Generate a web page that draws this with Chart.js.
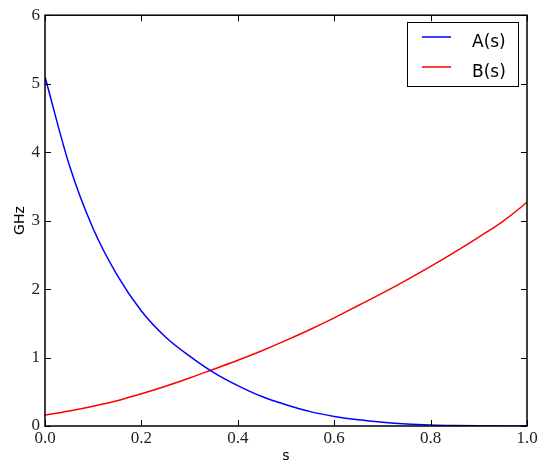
<!DOCTYPE html>
<html>
<head>
<meta charset="utf-8">
<script src="https://cdn.jsdelivr.net/npm/chart.js@4/dist/chart.umd.min.js"></script>
<style>
  html, body { margin: 0; padding: 0; background: #fff; }
  #wrap { width: 547px; height: 461px; }
</style>
</head>
<body>
<div id="wrap"><canvas id="myChart" width="547" height="461"></canvas></div>
<script>
const sValues = [0, 0.05, 0.1, 0.15, 0.2, 0.25, 0.3, 0.35, 0.4, 0.45, 0.5,
  0.55, 0.6, 0.65, 0.7, 0.75, 0.8, 0.85, 0.9, 0.95, 0.99, 1.0];
const aValues = [5.1, 3.82, 2.88, 2.2, 1.68, 1.30, 1.02, 0.78, 0.59, 0.43, 0.31,
  0.21, 0.14, 0.09, 0.055, 0.03, 0.015, 0.007, 0.003, 0.001, 0.0, 0.0];
const bValues = [0.16, 0.22, 0.29, 0.37, 0.47, 0.58, 0.70, 0.83, 0.96, 1.10, 1.25,
  1.41, 1.58, 1.76, 1.94, 2.13, 2.33, 2.54, 2.76, 2.99, 3.21, 3.27];
const seriesLabels = ["A(s)", "B(s)"];
const seriesColors = ["#0000ff", "#ff0000"];
const xTicks = [0, 0.2, 0.4, 0.6, 0.8, 1.0];
const yTicks = [0, 1, 2, 3, 4, 5, 6];

function toPoints(ys) {
  return sValues.map((s, i) => ({ x: s, y: ys[i] }));
}

// frame, inward ticks on all four sides, and the legend box
const framePlugin = {
  id: "frame",
  afterDraw(chart) {
    const { ctx, chartArea: a, scales } = chart;
    ctx.save();
    ctx.strokeStyle = "#000";
    ctx.lineWidth = 1;
    xTicks.forEach(v => {
      const px = Math.round(scales.x.getPixelForValue(v)) + 0.5;
      ctx.beginPath();
      ctx.moveTo(px, a.bottom); ctx.lineTo(px, a.bottom - 6);
      ctx.moveTo(px, a.top); ctx.lineTo(px, a.top + 6);
      ctx.stroke();
    });
    yTicks.forEach(v => {
      const py = Math.round(scales.y.getPixelForValue(v)) + 0.5;
      ctx.beginPath();
      ctx.moveTo(a.left, py); ctx.lineTo(a.left + 6, py);
      ctx.moveTo(a.right, py); ctx.lineTo(a.right - 6, py);
      ctx.stroke();
    });
    ctx.lineWidth = 1.5;
    ctx.strokeRect(a.left, a.top, a.right - a.left, a.bottom - a.top);

    // legend
    const lx = 407, ly = 22, lw = 111, lh = 64;
    ctx.fillStyle = "#fff";
    ctx.fillRect(lx, ly, lw, lh);
    ctx.lineWidth = 1;
    ctx.strokeStyle = "#000";
    ctx.strokeRect(lx + 0.5, ly + 0.5, lw, lh);
    ctx.font = "17px 'DejaVu Sans'";
    ctx.textBaseline = "alphabetic";
    ctx.textAlign = "left";
    seriesLabels.forEach((lab, i) => {
      const y = ly + 15 + i * 30;
      ctx.strokeStyle = seriesColors[i];
      ctx.lineWidth = 1.5;
      ctx.beginPath();
      ctx.moveTo(lx + 15, y); ctx.lineTo(lx + 44, y);
      ctx.stroke();
      ctx.fillStyle = "#000";
      ctx.fillText(lab, lx + 65, y + 10);
    });
    ctx.restore();
  }
};

new Chart("myChart", {
  type: "line",
  data: {
    datasets: [
      {
        label: seriesLabels[0],
        data: toPoints(aValues),
        borderColor: seriesColors[0],
        borderWidth: 1.5,
        pointRadius: 0,
        cubicInterpolationMode: "monotone",
        fill: false,
      },
      {
        label: seriesLabels[1],
        data: toPoints(bValues),
        borderColor: seriesColors[1],
        borderWidth: 1.5,
        pointRadius: 0,
        cubicInterpolationMode: "monotone",
        fill: false,
      },
    ],
  },
  options: {
    responsive: false,
    animation: false,
    layout: { padding: { top: 12, right: 20, left: 0, bottom: 0 } },
    plugins: { legend: { display: false }, tooltip: { enabled: false } },
    scales: {
      x: {
        type: "linear",
        min: 0,
        max: 1,
        afterBuildTicks: s => { s.ticks = xTicks.map(v => ({ value: v })); },
        afterFit: s => { s.height = 35; },
        grid: { display: false, drawTicks: false },
        border: { display: false },
        ticks: {
          padding: 2,
          color: "#222",
          font: { family: "'Liberation Serif'", size: 17 },
          callback: v => v.toFixed(1),
        },
        title: {
          display: true,
          text: "s",
          color: "#000",
          font: { family: "'DejaVu Sans'", size: 14 },
          padding: { top: 0, bottom: -4 },
        },
      },
      y: {
        min: 0,
        max: 6,
        afterBuildTicks: s => { s.ticks = yTicks.map(v => ({ value: v })); },
        afterFit: s => { s.width = 45; },
        grid: { display: false, drawTicks: false },
        border: { display: false },
        ticks: {
          padding: 5,
          color: "#222",
          font: { family: "'Liberation Serif'", size: 17 },
          callback: v => String(v),
        },
        title: {
          display: true,
          text: "GHz",
          color: "#000",
          font: { family: "'DejaVu Sans'", size: 14 },
          padding: { top: 12, bottom: 0 },
        },
      },
    },
  },
  plugins: [framePlugin],
});
</script>
</body>
</html>
